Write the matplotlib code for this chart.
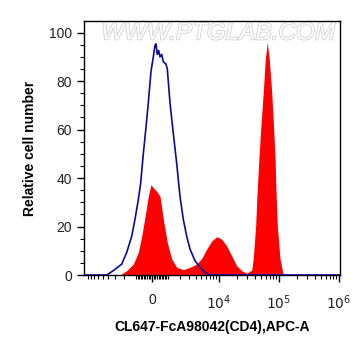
import numpy as np
import matplotlib as mpl
mpl.use('Agg')
import matplotlib.pyplot as plt
import matplotlib.patheffects as pe

mpl.rc('font', family=['Liberation Sans', 'DejaVu Sans'])

# Control (isotype) histogram, blue outline
blue_x = [-10400, -4234, -3221, -2221, -1739, -1323, -1076, -847, -689, -523,
          -357, -219, -59, 77, 177, 237, 315, 400, 480, 586, 689, 866, 956,
          1150, 1401, 1687, 1988, 2324, 2710, 3126, 3857, 4730, 5778, 7039,
          1.046e6]
blue_y = [0, 0, 1.8, 4.5, 9.3, 16, 23, 31, 38, 50, 61, 71, 84, 90, 94.7,
          95.4, 91, 92.6, 90, 91, 88, 87, 85, 71, 58.5, 46, 32.5, 23, 16,
          10.7, 5.9, 3.2, 1.1, 0, 0]

# Stained sample histogram, red fill
red_x = [-2400, -1739, -1201, -847, -624, -418, -219, -59, 77, 279, 480, 689,
         956, 1277, 1687, 2324, 3126, 4135, 5063, 6179, 7524, 9148, 11104,
         13468, 16336, 19810, 24010, 29100, 35270, 37480, 41100, 43200,
         46660, 50400, 55050, 59450, 64200, 69290, 75980, 81400, 86280,
         89600, 94200, 104500, 117200, 135100]
red_y = [0, 1.8, 4.5, 9.3, 16, 24, 32.5, 37.3, 36, 34.5, 32.5, 23, 13.4,
         6.6, 3.2, 2.2, 3.2, 4.5, 6.8, 10.7, 14, 15.8, 14.8, 12, 7.9, 3.8,
         1.8, 0.7, 2.0, 6.8, 20.5, 33, 48.6, 62, 75.5, 89, 96, 89, 75.5, 62,
         48.6, 35, 20.5, 6.8, 0.5, 0]

x_major = [0, 1e4, 1e5, 1e6]
x_major_labels = ['0', r'$10^{4}$', r'$10^{5}$', r'$10^{6}$']

# biexponential-like axis
w = 1538.0
fwd = lambda v: np.arcsinh(np.asarray(v) / w)
inv = lambda v: w * np.sinh(np.asarray(v))

fig = plt.figure(figsize=(3.61, 3.56), dpi=100)
ax = fig.add_axes([0.2327, 0.2275, 0.7091, 0.7135])
ax.set_xscale('function', functions=(fwd, inv))

ax.fill_between(red_x, red_y, 0, color='#ff0000', linewidth=0, zorder=2)
ax.plot(blue_x, blue_y, color='#0a0a9a', linewidth=1.2, zorder=3)

ax.set_xlim(-10400, 1.046e6)
ax.set_ylim(0, 104.8)

ax.set_xticks(x_major)
ax.set_xticklabels(x_major_labels)
minor = []
for d in [100, 1000]:
    for k in range(1, 10):
        minor += [k * d, -k * d]
for d in [1e4, 1e5]:
    for k in range(2, 10):
        minor.append(k * d)
ax.set_xticks(minor, minor=True)

ax.set_yticks(range(0, 101, 20))
ax.set_yticks(range(0, 101, 5), minor=True)

ax.tick_params(which='major', length=5, width=1, labelsize=10,
               labelcolor='#222222', direction='out')
ax.tick_params(which='minor', length=3, width=0.8, direction='out')
ax.tick_params(axis='x', which='major', pad=8)

for s in ax.spines.values():
    s.set_linewidth(1.0)

ax.set_ylabel('Relative cell number', fontsize=10, fontweight='bold',
              labelpad=9)
ax.set_xlabel('CL647-FcA98042(CD4),APC-A', fontsize=10, fontweight='bold',
              labelpad=6)

ax.text(0.523, 0.953, 'WWW.PTGLAB.COM', transform=ax.transAxes, ha='center',
        va='center', fontsize=17.5, color='white', style='italic', zorder=1,
        path_effects=[pe.withStroke(linewidth=1.2, foreground='#d0d0d0')])

fig.savefig('out.png', dpi=100)
